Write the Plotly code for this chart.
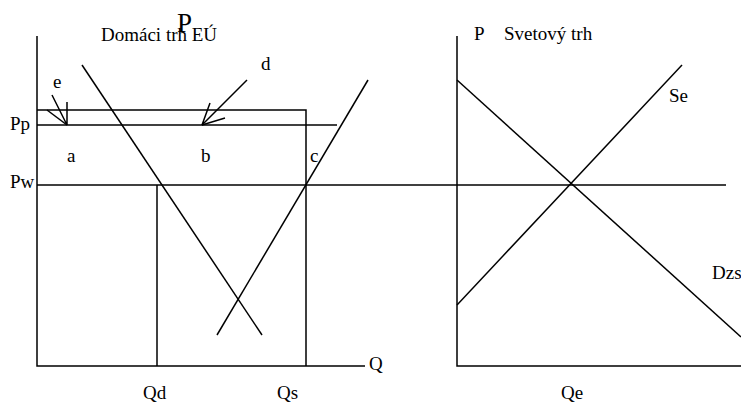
import plotly.graph_objects as go

# domestic (EU) market, units from its own origin
p_axis_top = 33.0
q_axis_end = 32.8
Pw = 18.1
Pp = 24.1
P_top = 25.6
Qd = 12.0
Qs = 26.9
pw_end = 68.9
pp_end = 30.0
D_q = [4.5, 22.5]
D_p = [30.1, 3.1]
S_q = [33.1, 18.0]
S_p = [28.6, 3.1]

# arrows e and d: shaft then two head strokes meeting at the tip
e_q = [1.5, 3.0, 3.0, None, 1.0, 3.0]
e_p = [27.1, 24.1, 26.4, None, 25.6, 24.1]
d_q = [21.0, 16.5, 17.3, None, 18.8, 16.5]
d_p = [28.6, 24.1, 26.3, None, 24.8, 24.1]

# world market, shifted right
world_shift = 42.0
w_q_axis_end = 29.0
Dzs_q = [0, 28.4]
Dzs_p = [28.6, 2.9]
Se_q = [0, 22.5]
Se_p = [6.1, 30.1]
Qe = 11.5

SERIF = "Liberation Serif, Times New Roman, serif"

fig = go.Figure()

def seg(xs, ys):
    fig.add_trace(go.Scatter(x=xs, y=ys, mode="lines", showlegend=False,
                             hoverinfo="skip",
                             line=dict(color="black", width=1.5)))

# left panel
seg([0, 0, q_axis_end], [p_axis_top, 0, 0])
seg([0, pw_end], [Pw, Pw])
seg([0, pp_end], [Pp, Pp])
seg([0, Qs, Qs], [P_top, P_top, 0])
seg([Qd, Qd], [0, Pw])
seg(D_q, D_p)
seg(S_q, S_p)
seg(e_q, e_p)
seg(d_q, d_p)

# right panel
seg([world_shift, world_shift, world_shift + w_q_axis_end], [p_axis_top, 0, 0])
seg([world_shift + q for q in Dzs_q], Dzs_p)
seg([world_shift + q for q in Se_q], Se_p)

labels = [
    ("Domáci trh EÚ", 6.2, 33.2, "left", 19),
    ("P", 14.7, 34.3, "center", 27),
    ("e", 2.0, 28.5, "center", 19),
    ("d", 22.9, 30.3, "center", 19),
    ("Pp", -2.9, Pp + 0.2, "left", 19),
    ("Pw", -2.9, Pw + 0.35, "left", 19),
    ("a", 3.4, 21.1, "center", 19),
    ("b", 16.9, 21.1, "center", 19),
    ("c", 27.1, 21.1, "left", 19),
    ("Q", 33.0, 0.3, "left", 19),
    ("Qd", Qd - 0.2, -2.6, "center", 19),
    ("Qs", Qs - 1.9, -2.6, "center", 19),
    ("Qe", world_shift + Qe, -2.6, "center", 19),
    ("P", world_shift + 1.5, 33.3, "left", 19),
    ("Svetový trh", world_shift + 4.5, 33.3, "left", 19),
    ("Se", world_shift + 21.0, 27.1, "left", 19),
    ("Dzs", world_shift + 25.3, 9.4, "left", 19),
]
for txt, x, y, anchor, size in labels:
    fig.add_annotation(x=x, y=y, text=txt, showarrow=False, xanchor=anchor,
                       yanchor="middle",
                       font=dict(family=SERIF, size=size, color="black"))

fig.update_xaxes(range=[-3.7, 70.4], visible=False)
fig.update_yaxes(range=[-3.6, 36.6], visible=False)
fig.update_layout(width=741, height=402, margin=dict(l=0, r=0, t=0, b=0),
                  plot_bgcolor="white", paper_bgcolor="white",
                  font=dict(family=SERIF, color="black"))

# drop the page's default body margin so the figure fills the window
fig.write_html("out.html", config={"displayModeBar": False},
               post_script="document.body.style.margin='0';"
                           "document.body.style.overflow='hidden';")
